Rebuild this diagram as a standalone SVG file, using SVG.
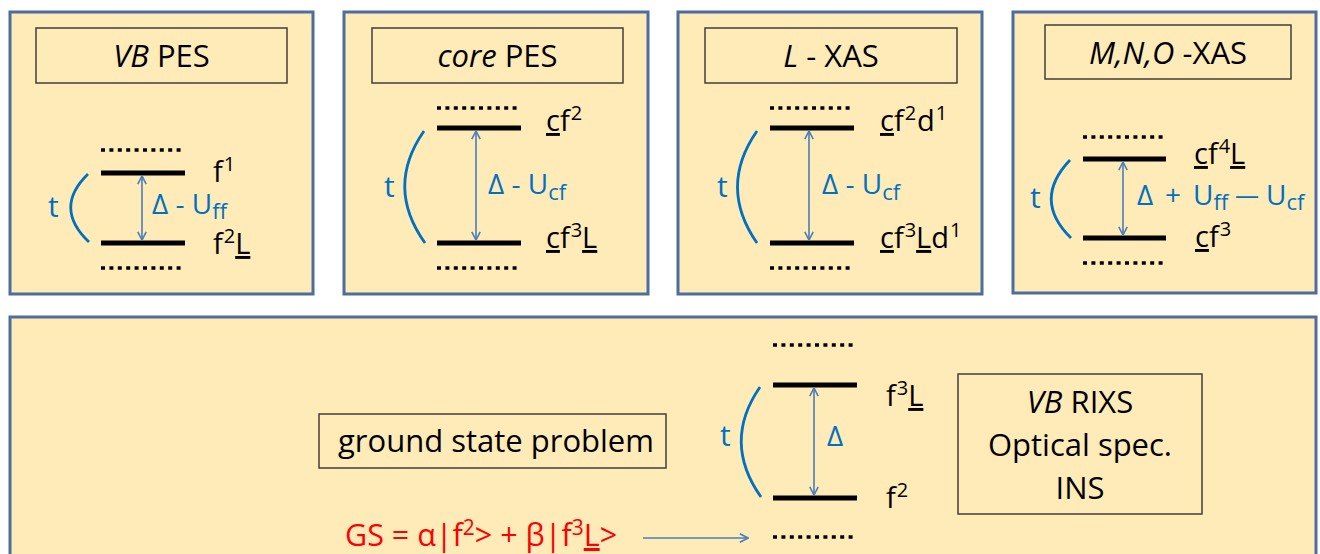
<svg xmlns="http://www.w3.org/2000/svg" width="1320" height="554" viewBox="0 0 1320 554">
<style>
.panel{fill:#FFEBB7;stroke:#4D6D9E;stroke-width:3}
.tbox{fill:#FFEBB7;stroke:#333;stroke-width:1.4}
.ttl{font-family:"Open Sans","Liberation Sans",sans-serif;font-size:31px;fill:#000;text-anchor:middle}
.lbl{font-family:"Open Sans","Liberation Sans",sans-serif;font-size:29px;fill:#000}
.blu{font-family:"Open Sans","Liberation Sans",sans-serif;font-size:28px;fill:#0070C0}
.tt{font-family:"Open Sans","Liberation Sans",sans-serif;font-size:30px;fill:#0070C0}
.sup{font-size:20px}
.sub{font-size:22px}
.red{font-family:"Open Sans","Liberation Sans",sans-serif;font-size:30.5px;fill:#FF0000}
.lvl{stroke:#000;stroke-width:5;fill:none}
.dot{stroke:#000;stroke-width:3.5;stroke-dasharray:4 4.4;fill:none}
.arc{stroke:#0070C0;stroke-width:2.8;fill:none}
.arw{stroke:#4A7EBB;stroke-width:1.6;fill:none;marker-start:url(#ah);marker-end:url(#ah)}
.arw1{stroke:#4A7EBB;stroke-width:1.6;fill:none;marker-end:url(#ah)}
.ul{text-decoration:underline}
.it{font-style:italic}
</style>
<defs>
<marker id="ah" viewBox="0 0 10 10" refX="9.2" refY="5" markerWidth="10" markerHeight="10" markerUnits="userSpaceOnUse" orient="auto-start-reverse">
<path d="M1,0.8 L9.2,5 L1,9.2" fill="none" stroke="#4A7EBB" stroke-width="1.6"/>
</marker>
</defs>

<g id="vb-pes">
<rect class="panel" x="10" y="12" width="303" height="282"/>
<rect class="tbox" x="36" y="28" width="251" height="55"/>
<text class="ttl" x="161.5" y="67"><tspan class="it">VB</tspan> PES</text>
<line class="dot" x1="101" y1="150" x2="185" y2="150"/>
<line class="lvl" x1="101" y1="173" x2="185" y2="173"/>
<line class="lvl" x1="101" y1="243" x2="185" y2="243"/>
<line class="dot" x1="101" y1="268" x2="185" y2="268"/>
<path class="arc" d="M88,174 Q53,208 89,242"/>
<text class="tt" x="48" y="217">t</text>
<text class="blu" x="152" y="214">Δ - U<tspan class="sub" dy="5">ff</tspan></text>
<text class="lbl" x="213" y="182">f<tspan class="sup" dy="-11" dx="1">1</tspan></text>
<text class="lbl" x="213" y="254">f<tspan class="sup" dy="-11" dx="1">2</tspan><tspan class="ul" dy="11">L</tspan></text>
</g>

<g id="core-pes">
<rect class="panel" x="344" y="12" width="304" height="282"/>
<rect class="tbox" x="372" y="28" width="251" height="55"/>
<text class="ttl" x="497.5" y="67"><tspan class="it">core</tspan> PES</text>
<line class="dot" x1="437" y1="108" x2="521" y2="108"/>
<line class="lvl" x1="437" y1="128" x2="521" y2="128"/>
<line class="lvl" x1="437" y1="243" x2="521" y2="243"/>
<line class="dot" x1="437" y1="268" x2="521" y2="268"/>
<path class="arc" d="M424,131 Q385,187 425,243"/>
<text class="tt" x="384" y="197">t</text>
<text class="blu" x="488" y="194">Δ - U<tspan class="sub" dy="6">cf</tspan></text>
<text class="lbl" x="546" y="131"><tspan class="ul">c</tspan>f<tspan class="sup" dy="-11" dx="1">2</tspan></text>
<text class="lbl" x="546" y="248"><tspan class="ul">c</tspan>f<tspan class="sup" dy="-11" dx="1">3</tspan><tspan class="ul" dy="11">L</tspan></text>
</g>

<g id="l-xas">
<rect class="panel" x="678" y="12" width="304" height="282"/>
<rect class="tbox" x="705" y="28" width="252" height="55"/>
<text class="ttl" x="831" y="67"><tspan class="it">L</tspan> - XAS</text>
<line class="dot" x1="770" y1="108" x2="854" y2="108"/>
<line class="lvl" x1="770" y1="128" x2="854" y2="128"/>
<line class="lvl" x1="770" y1="243" x2="854" y2="243"/>
<line class="dot" x1="770" y1="268" x2="854" y2="268"/>
<path class="arc" d="M757,131 Q718,187 757,243"/>
<text class="tt" x="717" y="197">t</text>
<text class="blu" x="822" y="194">Δ - U<tspan class="sub" dy="6">cf</tspan></text>
<text class="lbl" x="880" y="131"><tspan class="ul">c</tspan>f<tspan class="sup" dy="-11" dx="1">2</tspan><tspan dy="11" dx="1">d</tspan><tspan class="sup" dy="-11" dx="1">1</tspan></text>
<text class="lbl" x="880" y="248"><tspan class="ul">c</tspan>f<tspan class="sup" dy="-11" dx="1">3</tspan><tspan class="ul" dy="11">L</tspan>d<tspan class="sup" dy="-11" dx="1">1</tspan></text>
</g>

<g id="mno-xas">
<rect class="panel" x="1013" y="12" width="303" height="281"/>
<rect class="tbox" x="1045" y="25" width="246" height="54"/>
<text class="ttl" x="1168" y="64"><tspan class="it">M,N,O</tspan> -XAS</text>
<line class="dot" x1="1083" y1="137" x2="1166" y2="137"/>
<line class="lvl" x1="1083" y1="159" x2="1166" y2="159"/>
<line class="lvl" x1="1083" y1="238" x2="1166" y2="238"/>
<line class="dot" x1="1083" y1="263" x2="1166" y2="263"/>
<path class="arc" d="M1070,160 Q1032,200 1071,238"/>
<text class="tt" x="1030" y="208">t</text>
<text class="blu" x="1137" y="205">Δ<tspan x="1165">+</tspan><tspan x="1193">U</tspan><tspan class="sub" dy="5">ff</tspan><tspan x="1235" dy="-6" style="font-size:24px">—</tspan><tspan x="1266" dy="1">U</tspan><tspan class="sub" dy="5">cf</tspan></text>
<text class="lbl" x="1194" y="164"><tspan class="ul">c</tspan>f<tspan class="sup" dy="-11" dx="1">4</tspan><tspan class="ul" dy="11">L</tspan></text>
<text class="lbl" x="1195" y="247"><tspan class="ul">c</tspan>f<tspan class="sup" dy="-11" dx="1">3</tspan></text>
</g>

<g id="ground-state">
<rect class="panel" x="10" y="317" width="1306" height="250"/>
<rect class="tbox" x="319" y="414" width="347" height="54"/>
<text class="ttl" x="496" y="452">ground state problem</text>
<text class="red" x="345" y="546">GS = α|f<tspan dy="-11" style="font-size:21px">2</tspan><tspan dy="11">&gt; + β|f</tspan><tspan dy="-11" style="font-size:21px">3</tspan><tspan class="ul" dy="11">L</tspan>&gt;</text>
<line class="dot" x1="773" y1="345" x2="857" y2="345"/>
<line class="lvl" x1="773" y1="385" x2="857" y2="385"/>
<line class="lvl" x1="773" y1="498" x2="857" y2="498"/>
<line class="dot" x1="773" y1="537" x2="857" y2="537"/>
<path class="arc" d="M760,387 Q722,442 761,497"/>
<text class="tt" x="720" y="446">t</text>
<text class="blu" x="827" y="446">Δ</text>
<text class="lbl" x="886" y="406">f<tspan class="sup" dy="-11" dx="1">3</tspan><tspan class="ul" dy="11">L</tspan></text>
<text class="lbl" x="886" y="508">f<tspan class="sup" dy="-11" dx="1">2</tspan></text>
</g>

<g id="rixs">
<rect class="tbox" x="958" y="374" width="244" height="140"/>
<text class="ttl" x="1080" y="413"><tspan class="it">VB</tspan> RIXS</text>
<text class="ttl" x="1080" y="456">Optical spec.</text>
<text class="ttl" x="1080" y="499">INS</text>
</g>

<g id="connectors">
<line class="arw" x1="142" y1="176" x2="142" y2="240"/>
<line class="arw" x1="476" y1="131" x2="476" y2="240"/>
<line class="arw" x1="809" y1="131" x2="809" y2="240"/>
<line class="arw" x1="1123" y1="162" x2="1123" y2="235"/>
<line class="arw" x1="814" y1="388" x2="814" y2="495"/>
<line class="arw1" x1="643" y1="538" x2="748" y2="538"/>
</g>
</svg>
